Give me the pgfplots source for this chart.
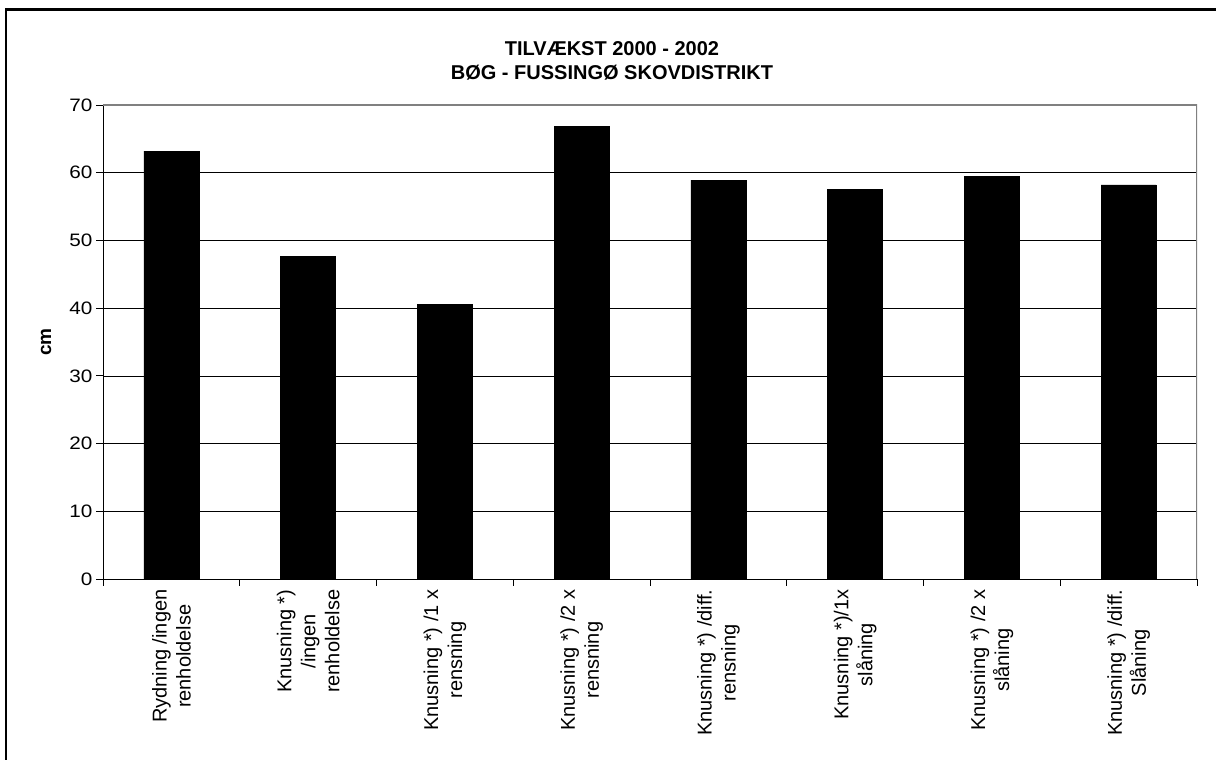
\documentclass[border=0pt]{standalone}
\usepackage{fontspec}
\setmainfont{Liberation Sans}
\usepackage{pgfplots}
\pgfplotsset{compat=1.18}
\begin{document}
\begin{tikzpicture}
\useasboundingbox[fill=white] (0pt,0pt) rectangle (1216pt,760pt);
\draw[line width=2.3pt] (6pt,0pt) -- (6pt,750.5pt) -- (1216pt,750.5pt);
\node[font=\bfseries\fontsize{20}{24}\selectfont, align=center] at (612pt,699pt) {TILVÆKST 2000 - 2002\\BØG - FUSSINGØ SKOVDISTRIKT};
\node[font=\bfseries\fontsize{19}{20}\selectfont, rotate=90] at (46pt,418pt) {cm};
\begin{axis}[
  at={(103pt,181pt)}, anchor=south west,
  scale only axis, width=1094pt, height=474pt,
  xmin=0, xmax=8, ymin=0, ymax=70,
  axis lines=left, axis line style={-, black, line width=0.9pt},
  ytick={0,10,...,70},
  yticklabel={\scalebox{1.15}[1]{\pgfmathprintnumber{\tick}}},
  ymajorgrids, grid style={black, line width=0.7pt},
  xtick={0.5,1.5,...,7.5},
  xticklabels={
    {Rydning /ingen\\renholdelse},
    {Knusning *)\\/ingen\\renholdelse},
    {Knusning *) /1 x\\rensning},
    {Knusning *) /2 x\\rensning},
    {Knusning *) /diff.\\rensning},
    {Knusning *)/1x\\slåning},
    {Knusning *) /2 x\\slåning},
    {Knusning *) /diff.\\Slåning}},
  major x tick style={draw=none},
  minor xtick={0,1,...,8},
  tick align=outside,
  major tick length=7pt, minor tick length=7pt,
  tick style={black, line width=0.9pt},
  xticklabel style={rotate=90, anchor=east, align=center, font=\fontsize{20}{24}\selectfont},
  yticklabel style={font=\fontsize{18}{20}\selectfont},
  /pgf/number format/assume math mode=true,
  ybar, bar width=55pt,
]
\addplot[fill=black, draw=black] coordinates {
 (0.5,63.2) (1.5,47.6) (2.5,40.6) (3.5,66.8) (4.5,58.9) (5.5,57.5) (6.5,59.5) (7.5,58.2)};
\draw[gray, line width=1.2pt] (rel axis cs:0,1) -- (rel axis cs:1,1) -- (rel axis cs:1,0);
\end{axis}
\end{tikzpicture}
\end{document}
